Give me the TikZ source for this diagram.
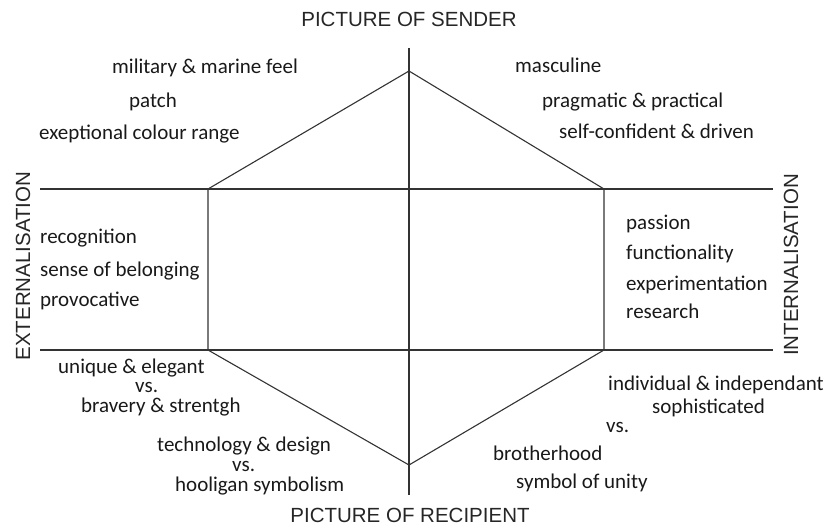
\documentclass[tikz,border=0pt]{standalone}
\usepackage{fontspec}
\setmainfont{Carlito}
\newfontfamily\headfont{Liberation Sans}

\begin{document}
\begin{tikzpicture}[x=1pt,y=-1pt,
	axis/.style={line width=1.1pt,draw=black!80},
	item/.style={anchor=base west,inner sep=0pt,text=black!90,font=\fontsize{21}{24}\selectfont},
	pair/.style={item,align=left},
	head/.style={inner sep=0pt,text=black!85,font=\headfont\fontsize{20.5}{24}\selectfont}]
\useasboundingbox (0,0) rectangle (829,527);

%hexagon corners
\coordinate (top) at (409,71);
\coordinate (bot) at (409,465);
\coordinate (ul) at (208,189);
\coordinate (ur) at (604,189);
\coordinate (ll) at (208,350);
\coordinate (lr) at (604,350);
%axis ends
\coordinate (vt) at (409,48);
\coordinate (vb) at (409,495);
\coordinate (hl1) at (40,189);
\coordinate (hr1) at (773,189);
\coordinate (hl2) at (40,350);
\coordinate (hr2) at (773,350);

%axes
\draw [axis] (vt)--(vb);
\draw [axis] (hl1)--(hr1);
\draw [axis] (hl2)--(hr2);
%hexagon
\draw [axis] (top)--(ur)--(lr)--(bot)--(ll)--(ul)--cycle;

%axis labels
\node [head,anchor=base] (sender) at (409,27) {PICTURE OF SENDER};
\node [head,anchor=base] (recipient) at (410,522) {PICTURE OF RECIPIENT};
\node [head,anchor=base,rotate=90] (ext) at (30,266) {EXTERNALISATION};
\node [head,anchor=base,rotate=90] (int) at (798,265) {INTERNALISATION};

%upper left
\node [item] (military) at (112,74) {military \& marine feel};
\node [item] (patch) at (129,107) {patch};
\node [item] (colour) at (39,139) {exeptional colour range};
%upper right
\node [item] (masculine) at (515,73) {masculine};
\node [item] (pragmatic) at (542,107) {pragmatic \& practical};
\node [item] (driven) at (559,138) {self-confident \& driven};
%left
\foreach \t/\y [count=\i] in {recognition/243,sense of belonging/276,provocative/306}{
	\node [item] (ext\i) at (40,\y) {\t};
}
%right
\foreach \t/\y [count=\i] in {passion/229,functionality/259,experimentation/290,research/318}{
	\node [item] (int\i) at (626,\y) {\t};
}
%lower left, one node per pair (base = last line)
\node [pair,font=\fontsize{21}{19.5}\selectfont] (unique) at (58,412)
	{unique \& elegant\\\hspace*{77pt}vs.\\\hspace*{23pt}bravery \& strentgh};
\node [pair,font=\fontsize{21}{20}\selectfont] (techno) at (157,491)
	{technology \& design\\\hspace*{75pt}vs.\\\hspace*{18pt}hooligan symbolism};
%lower right
\node [item] (individual) at (608,390) {individual \& independant};
\node [item] (sophis) at (652,413) {sophisticated};
\node [item] (vsc) at (606,432) {vs.};
\node [item] (brother) at (493,460) {brotherhood};
\node [item] (unity) at (516,488) {symbol of unity};
\end{tikzpicture}
\end{document}
